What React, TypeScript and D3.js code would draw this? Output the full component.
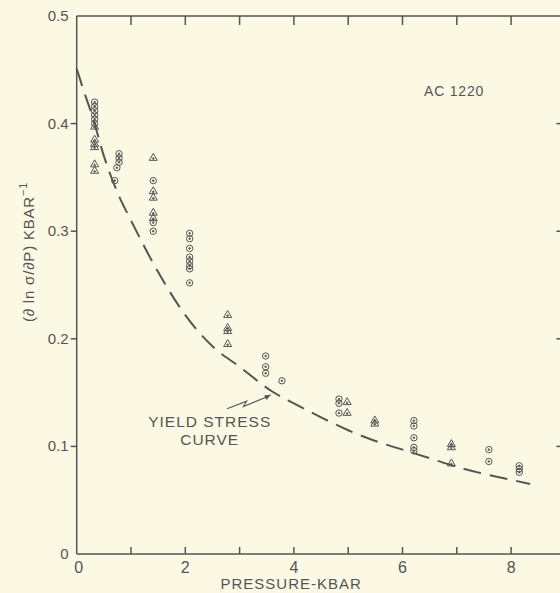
import React from "react";
import * as d3 from "d3";

const circleX = [0.33, 0.33, 0.33, 0.33, 0.33, 0.33, 0.78, 0.78, 0.78, 0.74, 0.7, 1.41, 1.41, 1.41, 2.08, 2.08, 2.08, 2.08, 2.08, 2.08, 2.08, 2.08, 3.48, 3.48, 3.48, 3.78, 4.83, 4.83, 4.83, 6.21, 6.21, 6.21, 6.21, 6.21, 7.59, 7.59, 8.15, 8.15, 8.15];
const circleY = [0.42, 0.416, 0.412, 0.408, 0.404, 0.4, 0.372, 0.368, 0.364, 0.359, 0.347, 0.347, 0.308, 0.3, 0.298, 0.293, 0.284, 0.276, 0.272, 0.268, 0.265, 0.252, 0.184, 0.174, 0.168, 0.161, 0.144, 0.14, 0.131, 0.124, 0.119, 0.108, 0.099, 0.096, 0.097, 0.086, 0.082, 0.079, 0.076];

const triangleX = [0.33, 0.33, 0.33, 0.33, 0.33, 0.33, 1.41, 1.41, 1.41, 1.41, 1.41, 2.78, 2.78, 2.78, 2.78, 4.98, 4.98, 5.49, 5.49, 6.9, 6.9, 6.9];
const triangleY = [0.397, 0.385, 0.381, 0.378, 0.362, 0.356, 0.368, 0.337, 0.331, 0.317, 0.312, 0.222, 0.21, 0.207, 0.195, 0.141, 0.131, 0.124, 0.121, 0.102, 0.099, 0.084];

const curveX = [0, 0.1, 0.3, 0.5, 0.75, 1, 1.5, 2, 2.5, 3, 3.6, 4, 4.5, 5, 5.5, 6, 6.5, 7, 7.5, 8, 8.35];
const curveY = [0.451, 0.435, 0.405, 0.37, 0.336, 0.31, 0.262, 0.222, 0.193, 0.174, 0.151, 0.14, 0.127, 0.115, 0.105, 0.097, 0.089, 0.081, 0.0745, 0.069, 0.065];

const xTicks = [0, 1, 2, 3, 4, 5, 6, 7, 8];
const xTickLabels = ["0", "", "2", "", "4", "", "6", "", "8"];
const yTicks = [0, 0.1, 0.2, 0.3, 0.4, 0.5];
const yTickLabels = ["0", "0.1", "0.2", "0.3", "0.4", "0.5"];

const INK = "#555555";
const FONT = "'Liberation Sans', Arial, sans-serif";

export default function App() {
  const x = d3.scaleLinear().domain([0, 9]).range([76.7, 565.4]);
  const y = d3.scaleLinear().domain([0, 0.5]).range([554, 16]);

  const line = d3
    .line<number>()
    .x((_, i) => x(curveX[i]))
    .y((_, i) => y(curveY[i]))
    .curve(d3.curveMonotoneX);
  const curvePath = line(curveX) || "";

  const triPath = (cx: number, cy: number) => {
    const s = 8;
    const h = (s * Math.sqrt(3)) / 2;
    return `M${cx},${cy - (2 * h) / 3} L${cx + s / 2},${cy + h / 3} L${cx - s / 2},${cy + h / 3} Z`;
  };

  const arrowPts: [number, number][] = [
    [2.77, 0.135],
    [3.13, 0.142],
    [3.07, 0.137],
    [3.5, 0.146],
  ];
  const arrowTip: [number, number] = [3.57, 0.148];

  return (
    <svg
      width={560}
      height={593}
      style={{ position: "absolute", left: 0, top: 0, background: "#fbf9e4" }}
      fontFamily={FONT}
    >
      <rect x={0} y={0} width={560} height={593} fill="#fbf9e4" />
      <g stroke={INK} strokeWidth={1.5} fill="none">
        <line x1={x(0)} y1={y(0)} x2={x(0)} y2={y(0.5)} />
        <line x1={x(0)} y1={y(0)} x2={x(9)} y2={y(0)} />
        <line x1={x(0)} y1={y(0.5)} x2={x(9)} y2={y(0.5)} />
        <line x1={x(9)} y1={y(0)} x2={x(9)} y2={y(0.5)} />
        {xTicks.slice(1).map((t) => (
          <g key={"xt" + t}>
            <line x1={x(t)} y1={y(0)} x2={x(t)} y2={y(0) - 7} />
            <line x1={x(t)} y1={y(0.5)} x2={x(t)} y2={y(0.5) + 9} />
          </g>
        ))}
        {yTicks.slice(1, 5).map((t) => (
          <g key={"yt" + t}>
            <line x1={x(0)} y1={y(t)} x2={x(0) - 6} y2={y(t)} />
            <line x1={x(9)} y1={y(t)} x2={x(9) - 9} y2={y(t)} />
          </g>
        ))}
      </g>
      <g fill={INK} fontSize={15}>
        {yTicks.map((t, i) => (
          <text key={"yl" + t} x={x(0) - 8} y={y(t) + 5} textAnchor="end">
            {yTickLabels[i]}
          </text>
        ))}
      </g>
      <g fill={INK} fontSize={16}>
        {xTicks.map((t, i) =>
          xTickLabels[i] ? (
            <text key={"xl" + t} x={x(t) + (t === 0 ? 2 : 0)} y={573} textAnchor="middle">
              {xTickLabels[i]}
            </text>
          ) : null
        )}
      </g>
      <text x={x(3.95)} y={589} textAnchor="middle" fill={INK} fontSize={15} letterSpacing={1}>
        PRESSURE-KBAR
      </text>
      <text
        transform={`translate(34, 252) rotate(-90)`}
        textAnchor="middle"
        fill={INK}
        fontSize={15}
        letterSpacing={0.8}
      >
        (∂ ln σ/∂P) KBAR
        <tspan dy={-7} fontSize={11}>−1</tspan>
      </text>
      <text x={x(6.95)} y={y(0.426)} textAnchor="middle" fill={INK} fontSize={14} letterSpacing={0.8}>
        AC 1220
      </text>
      <g fill={INK} fontSize={15.5} letterSpacing={1} textAnchor="middle">
        <text x={x(2.45)} y={y(0.118)}>YIELD STRESS</text>
        <text x={x(2.45)} y={y(0.101)}>CURVE</text>
      </g>
      <polyline
        points={[...arrowPts, arrowTip].map(([a, b]) => `${x(a)},${y(b)}`).join(" ")}
        fill="none"
        stroke={INK}
        strokeWidth={1.1}
      />
      <path
        d={(() => {
          const tx = x(arrowTip[0]);
          const ty = y(arrowTip[1]);
          const ang = Math.atan2(ty - y(arrowPts[3][1]), tx - x(arrowPts[3][0]));
          const L = 6, W = 2.5;
          const bx = tx - L * Math.cos(ang), by = ty - L * Math.sin(ang);
          return `M${tx},${ty} L${bx - W * Math.sin(ang)},${by + W * Math.cos(ang)} L${bx + W * Math.sin(ang)},${by - W * Math.cos(ang)} Z`;
        })()}
        fill={INK}
      />
      <path d={curvePath} fill="none" stroke={INK} strokeWidth={2} strokeDasharray="18,9" />
      <g stroke={INK} strokeWidth={1} fill="none">
        {circleX.map((cx, i) => (
          <g key={"c" + i}>
            <circle cx={x(cx)} cy={y(circleY[i])} r={3.2} />
            <circle cx={x(cx)} cy={y(circleY[i])} r={0.8} fill={INK} />
          </g>
        ))}
        {triangleX.map((tx, i) => (
          <g key={"t" + i}>
            <path d={triPath(x(tx), y(triangleY[i]))} />
            <circle cx={x(tx)} cy={y(triangleY[i]) + 0.5} r={0.8} fill={INK} />
          </g>
        ))}
      </g>
    </svg>
  );
}
